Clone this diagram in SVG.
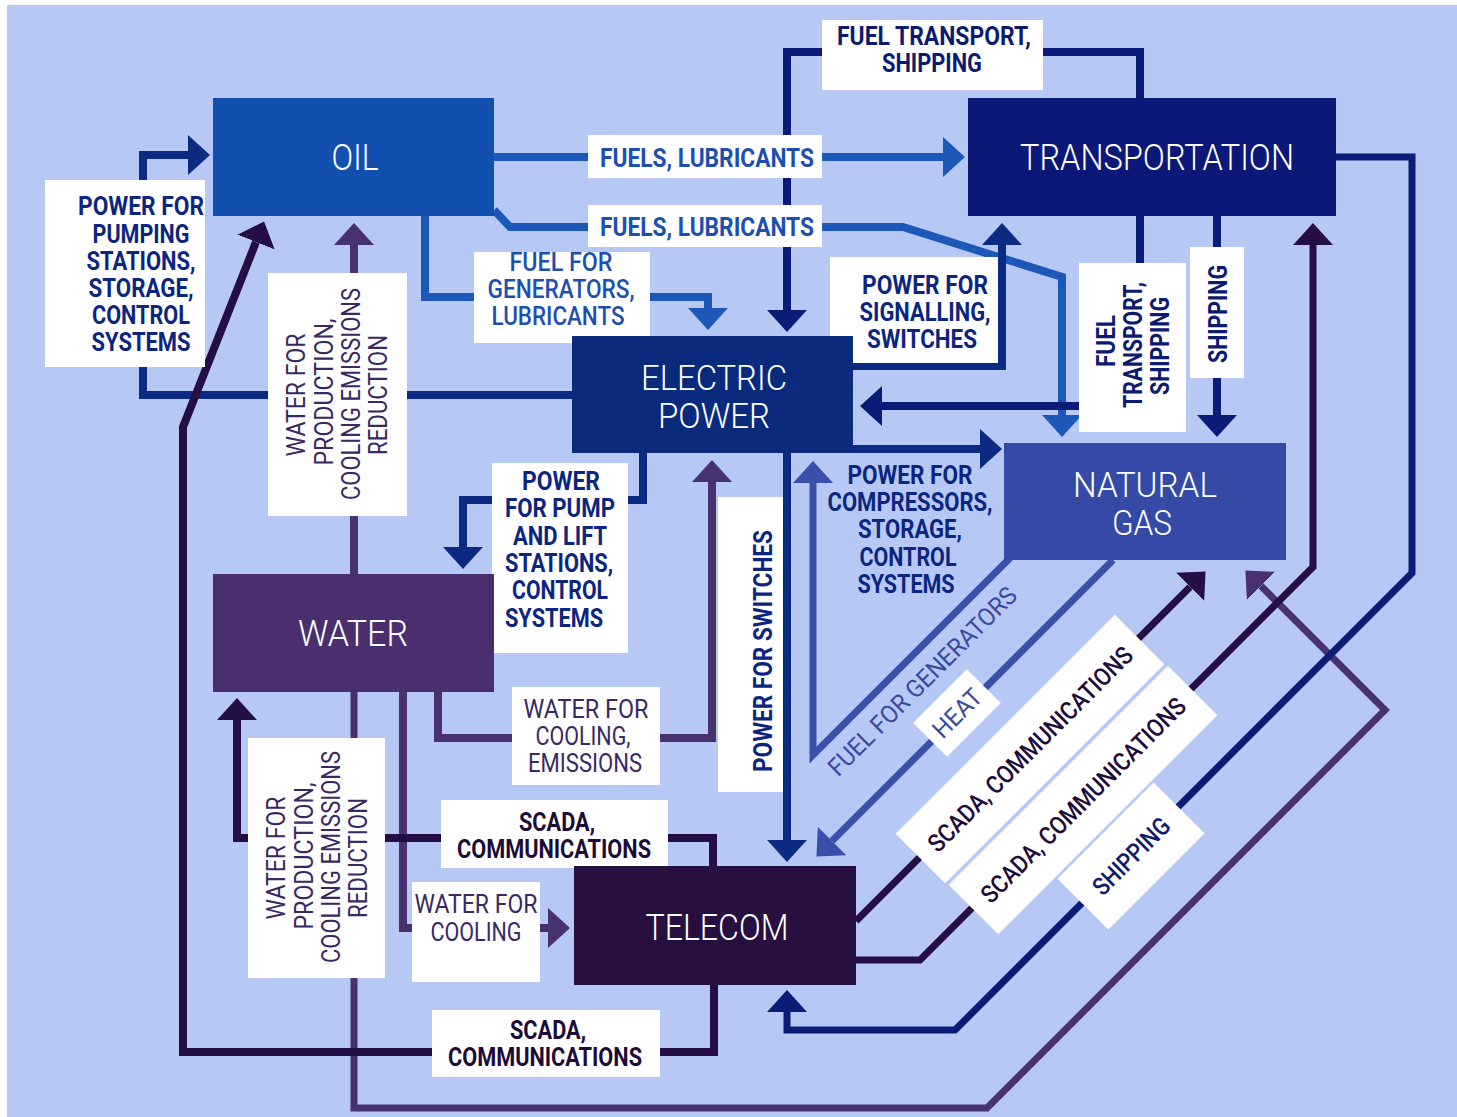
<svg xmlns="http://www.w3.org/2000/svg" width="1457" height="1117" viewBox="0 0 1457 1117">
  <defs>
    <style>
      .ln { fill: none; stroke-width: 8; stroke-linejoin: miter; stroke-linecap: butt; }
      .dg { stroke-width: 7; }
      .s-elec { stroke: #0b2b82; }
      .s-trans { stroke: #0c1a78; }
      .s-oil { stroke: #1b58b8; }
      .s-gas { stroke: #3a4fa9; }
      .s-water { stroke: #47326f; }
      .s-tele { stroke: #250e44; }
      .box { fill: #ffffff; }
      .ttl { font-family: Roboto, "DejaVu Sans", sans-serif; font-weight: 300; font-size: 37px; fill: #ffffff; text-anchor: middle; }
      .ttl2 { font-size: 35px; }
      .lb { font-family: Roboto, "DejaVu Sans", sans-serif; font-weight: 700; font-size: 25px; text-anchor: middle; }
      .lr { font-family: Roboto, "DejaVu Sans", sans-serif; font-weight: 400; font-size: 25px; text-anchor: middle; }
      .c-elec { fill: #0b2580; }
      .c-trans { fill: #0c1a70; }
      .c-oil { fill: #1c4fb0; }
      .c-gas { fill: #3a4a9c; }
      .c-water { fill: #3a2862; }
      .c-tele { fill: #1d0b38; }
    </style>
    <marker id="a-elec" viewBox="0 0 22 40" refX="0" refY="20" markerWidth="22" markerHeight="40" markerUnits="userSpaceOnUse" orient="auto"><path d="M0,0 L22,20 L0,40 z" fill="#0b2b82"/></marker>
    <marker id="a-trans" viewBox="0 0 22 40" refX="0" refY="20" markerWidth="22" markerHeight="40" markerUnits="userSpaceOnUse" orient="auto"><path d="M0,0 L22,20 L0,40 z" fill="#0c1a78"/></marker>
    <marker id="a-oil" viewBox="0 0 22 40" refX="0" refY="20" markerWidth="22" markerHeight="40" markerUnits="userSpaceOnUse" orient="auto"><path d="M0,0 L22,20 L0,40 z" fill="#1b58b8"/></marker>
    <marker id="a-gas" viewBox="0 0 22 40" refX="0" refY="20" markerWidth="22" markerHeight="40" markerUnits="userSpaceOnUse" orient="auto"><path d="M0,0 L22,20 L0,40 z" fill="#3a4fa9"/></marker>
    <marker id="a-water" viewBox="0 0 22 40" refX="0" refY="20" markerWidth="22" markerHeight="40" markerUnits="userSpaceOnUse" orient="auto"><path d="M0,0 L22,20 L0,40 z" fill="#47326f"/></marker>
    <marker id="a-tele" viewBox="0 0 22 40" refX="0" refY="20" markerWidth="22" markerHeight="40" markerUnits="userSpaceOnUse" orient="auto"><path d="M0,0 L22,20 L0,40 z" fill="#250e44"/></marker>
  </defs>

  <!-- page -->
  <rect x="0" y="0" width="1457" height="1117" fill="#ffffff"/>
  <rect x="7" y="5" width="1450" height="1112" fill="#b7c8f5"/>

  <!-- connectors -->
  <g id="connectors">
    <path class="ln s-elec" d="M572,395 H143 V155 H188" marker-end="url(#a-elec)"/>
    <path class="ln s-oil" d="M494,157 H943" marker-end="url(#a-oil)"/>
    <path class="ln s-oil" d="M494,210 L510,227 H903 L1062,277 V415" marker-end="url(#a-oil)"/>
    <path class="ln s-oil" d="M425,216 V297 H708 V308" marker-end="url(#a-oil)"/>
    <path class="ln s-trans" d="M1140,98 V52 H787 V310" marker-end="url(#a-trans)"/>
    <path class="ln s-elec" d="M853,366 H1002 V245" marker-end="url(#a-elec)"/>
    <path class="ln s-trans" d="M1140,216 V406 H882" marker-end="url(#a-trans)"/>
    <path class="ln s-trans" d="M1217,216 V415" marker-end="url(#a-trans)"/>
    <path class="ln s-elec" d="M853,449 H980" marker-end="url(#a-elec)"/>
    <path class="ln dg s-gas" d="M1012,556 L813,755 V483" marker-end="url(#a-gas)"/>
    <path class="ln dg s-gas" d="M1113,560 L832,841" marker-end="url(#a-gas)"/>
    <path class="ln s-elec" d="M787,453 V840" marker-end="url(#a-elec)"/>
    <path class="ln s-elec" d="M643,453 V500 H463 V547" marker-end="url(#a-elec)"/>
    <path class="ln s-water" d="M438,692 V738 H712 V482" marker-end="url(#a-water)"/>
    <path class="ln s-water" d="M354,574 V245" marker-end="url(#a-water)"/>
    <path class="ln s-water" d="M403,692 V928 H548" marker-end="url(#a-water)"/>
    <path class="ln dg s-water" d="M354,692 V1108 H987 L1385,710 L1261,586" marker-end="url(#a-water)"/>
    <path class="ln s-tele" d="M713,866 V838 H237 V720" marker-end="url(#a-tele)"/>
    <path class="ln s-tele" d="M714,985 V1052 H183 V427 L256,242" marker-end="url(#a-tele)"/>
    <path class="ln dg s-tele" d="M856,921 L1190,587" marker-end="url(#a-tele)"/>
    <path class="ln dg s-tele" d="M856,960 H920 L1313,567 V245" marker-end="url(#a-tele)"/>
    <path class="ln dg s-trans" d="M1336,157 H1412 V573 L955,1030 H787 V1012" marker-end="url(#a-trans)"/>
  </g>

  <!-- connector labels -->
  <g id="connector-labels">
    <!-- power for pumping stations -->
    <rect class="box" x="45" y="180" width="160" height="187"/>
    <text class="lb c-elec" x="141" y="215" textLength="126" lengthAdjust="spacingAndGlyphs">POWER FOR</text>
    <text class="lb c-elec" x="141" y="243" textLength="97" lengthAdjust="spacingAndGlyphs">PUMPING</text>
    <text class="lb c-elec" x="141" y="270" textLength="109" lengthAdjust="spacingAndGlyphs">STATIONS,</text>
    <text class="lb c-elec" x="141" y="297" textLength="105" lengthAdjust="spacingAndGlyphs">STORAGE,</text>
    <text class="lb c-elec" x="141" y="324" textLength="98" lengthAdjust="spacingAndGlyphs">CONTROL</text>
    <text class="lb c-elec" x="141" y="351" textLength="99" lengthAdjust="spacingAndGlyphs">SYSTEMS</text>

    <!-- fuels, lubricants -->
    <rect class="box" x="588" y="135" width="234" height="43"/>
    <text class="lb c-oil" x="707" y="167" textLength="214" lengthAdjust="spacingAndGlyphs">FUELS, LUBRICANTS</text>
    <rect class="box" x="588" y="205" width="234" height="42"/>
    <text class="lb c-oil" x="707" y="236" textLength="214" lengthAdjust="spacingAndGlyphs">FUELS, LUBRICANTS</text>

    <!-- fuel transport, shipping (top) -->
    <rect class="box" x="822" y="20" width="221" height="70"/>
    <text class="lb c-trans" x="934" y="45" textLength="194" lengthAdjust="spacingAndGlyphs">FUEL TRANSPORT,</text>
    <text class="lb c-trans" x="932" y="72" textLength="100" lengthAdjust="spacingAndGlyphs">SHIPPING</text>

    <!-- fuel for generators, lubricants -->
    <rect class="box" x="474" y="252" width="176" height="91"/>
    <text class="lb c-oil" x="561" y="271" textLength="103" lengthAdjust="spacingAndGlyphs" style="font-weight:500">FUEL FOR</text>
    <text class="lb c-oil" x="561" y="298" textLength="147" lengthAdjust="spacingAndGlyphs" style="font-weight:500">GENERATORS,</text>
    <text class="lb c-oil" x="558" y="325" textLength="133" lengthAdjust="spacingAndGlyphs" style="font-weight:500">LUBRICANTS</text>

    <!-- power for signalling, switches -->
    <rect class="box" x="830" y="257" width="168" height="106"/>
    <text class="lb c-elec" x="925" y="294" textLength="126" lengthAdjust="spacingAndGlyphs">POWER FOR</text>
    <text class="lb c-elec" x="925" y="321" textLength="131" lengthAdjust="spacingAndGlyphs">SIGNALLING,</text>
    <text class="lb c-elec" x="922" y="348" textLength="110" lengthAdjust="spacingAndGlyphs">SWITCHES</text>

    <!-- water for production (to oil) -->
    <rect class="box" x="268" y="273" width="139" height="243"/>
    <text class="lr c-water" transform="translate(305,395) rotate(-90)" textLength="123" lengthAdjust="spacingAndGlyphs">WATER FOR</text>
    <text class="lr c-water" transform="translate(333,392) rotate(-90)" textLength="147" lengthAdjust="spacingAndGlyphs">PRODUCTION,</text>
    <text class="lr c-water" transform="translate(360,394) rotate(-90)" textLength="212" lengthAdjust="spacingAndGlyphs">COOLING EMISSIONS</text>
    <text class="lr c-water" transform="translate(387,395) rotate(-90)" textLength="120" lengthAdjust="spacingAndGlyphs">REDUCTION</text>

    <!-- fuel transport, shipping (vertical) -->
    <rect class="box" x="1079" y="263" width="107" height="169"/>
    <text class="lb c-trans" transform="translate(1115,341) rotate(-90)" textLength="52" lengthAdjust="spacingAndGlyphs">FUEL</text>
    <text class="lb c-trans" transform="translate(1142,345) rotate(-90)" textLength="126" lengthAdjust="spacingAndGlyphs">TRANSPORT,</text>
    <text class="lb c-trans" transform="translate(1169,346) rotate(-90)" textLength="98" lengthAdjust="spacingAndGlyphs">SHIPPING</text>

    <!-- shipping (vertical) -->
    <rect class="box" x="1190" y="247" width="54" height="131"/>
    <text class="lb c-trans" transform="translate(1227,314) rotate(-90)" textLength="98" lengthAdjust="spacingAndGlyphs">SHIPPING</text>

    <!-- power for pump and lift stations -->
    <rect class="box" x="492" y="463" width="136" height="190"/>
    <text class="lb c-elec" x="561" y="490" textLength="78" lengthAdjust="spacingAndGlyphs">POWER</text>
    <text class="lb c-elec" x="560" y="517" textLength="110" lengthAdjust="spacingAndGlyphs">FOR PUMP</text>
    <text class="lb c-elec" x="560" y="545" textLength="94" lengthAdjust="spacingAndGlyphs">AND LIFT</text>
    <text class="lb c-elec" x="559" y="572" textLength="108" lengthAdjust="spacingAndGlyphs">STATIONS,</text>
    <text class="lb c-elec" x="560" y="599" textLength="96" lengthAdjust="spacingAndGlyphs">CONTROL</text>
    <text class="lb c-elec" x="554" y="627" textLength="98" lengthAdjust="spacingAndGlyphs">SYSTEMS</text>

    <!-- power for compressors (no backing) -->
    <text class="lb c-elec" x="910" y="484" textLength="125" lengthAdjust="spacingAndGlyphs">POWER FOR</text>
    <text class="lb c-elec" x="910" y="511" textLength="165" lengthAdjust="spacingAndGlyphs">COMPRESSORS,</text>
    <text class="lb c-elec" x="910" y="538" textLength="104" lengthAdjust="spacingAndGlyphs">STORAGE,</text>
    <text class="lb c-elec" x="908" y="566" textLength="97" lengthAdjust="spacingAndGlyphs">CONTROL</text>
    <text class="lb c-elec" x="906" y="593" textLength="97" lengthAdjust="spacingAndGlyphs">SYSTEMS</text>

    <!-- power for switches -->
    <rect class="box" x="718" y="497" width="65" height="295"/>
    <text class="lb c-elec" transform="translate(772,651) rotate(-90)" textLength="242" lengthAdjust="spacingAndGlyphs">POWER FOR SWITCHES</text>

    <!-- water for cooling, emissions -->
    <rect class="box" x="512" y="687" width="148" height="98"/>
    <text class="lr c-water" x="586" y="718" textLength="125" lengthAdjust="spacingAndGlyphs">WATER FOR</text>
    <text class="lr c-water" x="583" y="745" textLength="95" lengthAdjust="spacingAndGlyphs">COOLING,</text>
    <text class="lr c-water" x="585" y="772" textLength="114" lengthAdjust="spacingAndGlyphs">EMISSIONS</text>

    <!-- water for production (to natural gas) -->
    <rect class="box" x="248" y="738" width="137" height="240"/>
    <text class="lr c-water" transform="translate(285,858) rotate(-90)" textLength="123" lengthAdjust="spacingAndGlyphs">WATER FOR</text>
    <text class="lr c-water" transform="translate(313,856) rotate(-90)" textLength="147" lengthAdjust="spacingAndGlyphs">PRODUCTION,</text>
    <text class="lr c-water" transform="translate(340,857) rotate(-90)" textLength="212" lengthAdjust="spacingAndGlyphs">COOLING EMISSIONS</text>
    <text class="lr c-water" transform="translate(367,858) rotate(-90)" textLength="120" lengthAdjust="spacingAndGlyphs">REDUCTION</text>

    <!-- scada (to water) -->
    <rect class="box" x="441" y="800" width="227" height="68"/>
    <text class="lb c-tele" x="557" y="831" textLength="76" lengthAdjust="spacingAndGlyphs">SCADA,</text>
    <text class="lb c-tele" x="554" y="858" textLength="194" lengthAdjust="spacingAndGlyphs">COMMUNICATIONS</text>

    <!-- water for cooling -->
    <rect class="box" x="412" y="882" width="128" height="100"/>
    <text class="lr c-water" x="476" y="913" textLength="123" lengthAdjust="spacingAndGlyphs">WATER FOR</text>
    <text class="lr c-water" x="476" y="941" textLength="91" lengthAdjust="spacingAndGlyphs">COOLING</text>

    <!-- scada (to oil) -->
    <rect class="box" x="432" y="1010" width="228" height="67"/>
    <text class="lb c-tele" x="548" y="1039" textLength="76" lengthAdjust="spacingAndGlyphs">SCADA,</text>
    <text class="lb c-tele" x="545" y="1066" textLength="194" lengthAdjust="spacingAndGlyphs">COMMUNICATIONS</text>

    <!-- diagonal labels -->
    <g transform="translate(922,681) rotate(-45)">
      <text class="lr c-gas" y="9" textLength="255" lengthAdjust="spacingAndGlyphs">FUEL FOR GENERATORS</text>
    </g>
    <g transform="translate(957,713) rotate(-45)">
      <rect class="box" x="-38" y="-24" width="76" height="48"/>
      <text class="lr c-gas" y="9" textLength="58" lengthAdjust="spacingAndGlyphs">HEAT</text>
    </g>
    <g transform="translate(1030,749) rotate(-45)">
      <rect class="box" x="-155" y="-35" width="310" height="70"/>
      <text class="lr c-tele" y="9" textLength="278" lengthAdjust="spacingAndGlyphs" style="font-weight:500">SCADA, COMMUNICATIONS</text>
    </g>
    <g transform="translate(1083,800) rotate(-45)">
      <rect class="box" x="-155" y="-35" width="310" height="70"/>
      <text class="lr c-tele" y="9" textLength="278" lengthAdjust="spacingAndGlyphs" style="font-weight:500">SCADA, COMMUNICATIONS</text>
    </g>
    <g transform="translate(1131,856) rotate(-45)">
      <rect class="box" x="-68" y="-36" width="136" height="72"/>
      <text class="lr c-trans" y="9" textLength="98" lengthAdjust="spacingAndGlyphs" style="font-weight:500">SHIPPING</text>
    </g>
  </g>

  <!-- nodes -->
  <g id="node-oil">
    <rect x="213" y="98" width="281" height="118" fill="#1250b0"/>
    <text class="ttl" x="355" y="170" textLength="47" lengthAdjust="spacingAndGlyphs">OIL</text>
  </g>
  <g id="node-transportation">
    <rect x="968" y="98" width="368" height="118" fill="#0b1878"/>
    <text class="ttl" x="1157" y="170" textLength="274" lengthAdjust="spacingAndGlyphs">TRANSPORTATION</text>
  </g>
  <g id="node-electric-power">
    <rect x="572" y="336" width="281" height="117" fill="#0a2a7c"/>
    <text class="ttl ttl2" x="714" y="390" textLength="146" lengthAdjust="spacingAndGlyphs">ELECTRIC</text>
    <text class="ttl ttl2" x="714" y="428" textLength="112" lengthAdjust="spacingAndGlyphs">POWER</text>
  </g>
  <g id="node-natural-gas">
    <rect x="1004" y="443" width="282" height="117" fill="#3549a6"/>
    <text class="ttl ttl2" x="1145" y="497" textLength="144" lengthAdjust="spacingAndGlyphs">NATURAL</text>
    <text class="ttl ttl2" x="1142" y="535" textLength="60" lengthAdjust="spacingAndGlyphs">GAS</text>
  </g>
  <g id="node-water">
    <rect x="213" y="574" width="281" height="118" fill="#4a2f6e"/>
    <text class="ttl" x="353" y="646" textLength="110" lengthAdjust="spacingAndGlyphs">WATER</text>
  </g>
  <g id="node-telecom">
    <rect x="574" y="866" width="282" height="119" fill="#27103f"/>
    <text class="ttl" x="717" y="940" textLength="143" lengthAdjust="spacingAndGlyphs">TELECOM</text>
  </g>
</svg>
